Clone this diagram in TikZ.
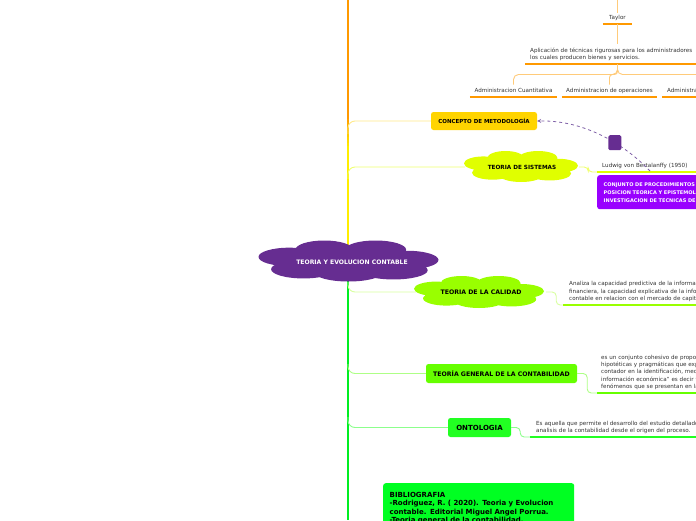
\documentclass[tikz,border=0pt]{standalone}
\usepackage{fontspec}
\setmainfont{DejaVu Sans}
\usetikzlibrary{arrows.meta}
\definecolor{cOrange}{HTML}{FF9900}
\definecolor{cOrangeLt}{HTML}{FFCB7A}
\definecolor{cYellow}{HTML}{FFEE00}
\definecolor{cGold}{HTML}{FFD400}
\definecolor{cGoldLt}{HTML}{FFEA8A}
\definecolor{cLime}{HTML}{E0FF00}
\definecolor{cLimeLt}{HTML}{F0FF70}
\definecolor{cPurple}{HTML}{662D91}
\definecolor{cViolet}{HTML}{9900FF}
\definecolor{cDash}{HTML}{8062A8}
\definecolor{cGreenA}{HTML}{99FF00}
\definecolor{cGreenALt}{HTML}{D8FFA0}
\definecolor{cGreenB}{HTML}{66FF00}
\definecolor{cGreenBLt}{HTML}{AEFF86}
\definecolor{cGreenC}{HTML}{22FF22}
\definecolor{cGreenCLt}{HTML}{8CFF8C}
\definecolor{cTrunk}{HTML}{00EE22}
\definecolor{cBib}{HTML}{00FF22}
\definecolor{cText}{HTML}{333333}
\tikzset{
  cloudpic/.pic={
    \fill[#1] (-0.66,-0.2) ellipse [x radius=.34, y radius=.45]
      (-0.27,-0.55) ellipse [x radius=.32, y radius=.45]
      (0.3,-0.55) ellipse [x radius=.34, y radius=.45]
      (0.65,-0.05) ellipse [x radius=.35, y radius=.45]
      (0.5,0.45) ellipse [x radius=.38, y radius=.45]
      (0.0,0.55) ellipse [x radius=.38, y radius=.45]
      (-0.5,0.4) ellipse [x radius=.36, y radius=.45]
      (0,0) ellipse [x radius=.8, y radius=.6];
  }
}
\begin{document}
\begin{tikzpicture}[x=1pt,y=-1pt,
  small/.style={font=\fontsize{5.6}{7.4}\selectfont, text=cText, inner sep=0pt},
  lbl/.style={font=\bfseries\fontsize{5.5}{6.5}\selectfont, text=black, inner sep=0pt},
  box/.style={rounded corners=2.5pt, inner sep=0pt},
  uline/.style={line width=2.4pt, #1},
  branch/.style={line width=0.9pt, rounded corners=7pt, #1},
  trunk/.style={line width=2.6pt, #1}]
\useasboundingbox[fill=white] (0,0) rectangle (696,520);

% trunk
\coordinate (t0) at (348,0);
\coordinate (t1) at (348,116);
\coordinate (t2) at (348,146);
\coordinate (t3) at (348,252);
\coordinate (t4) at (348,520);
\draw[trunk=cOrange] (t0) -- (t1);
\foreach \i in {0,...,9}{
  \pgfmathsetmacro{\pc}{100-\i*10}
  \draw[trunk=cOrange!\pc!cYellow] (348,116+\i*3) -- (348,119.4+\i*3);
}
\draw[trunk=cYellow] (t2) -- (t3);
\draw[trunk=cTrunk] (t3) -- (t4);

% ---------- top right (Taylor) ----------
\coordinate (topend) at (617.5,0);
\node[small, minimum width=29, minimum height=11, anchor=south] (taylor) at (617.5,24) {Taylor};
\draw[line width=0.9pt, cOrangeLt] (topend) -- (taylor.north);
\draw[uline=cOrange] (taylor.south west) -- (taylor.south east);
\node[small, anchor=south west, text width=200, align=left, inner xsep=5pt, inner ysep=3.5pt, font=\fontsize{5.6}{7}\selectfont] (aplic) at (525,64)
  {Aplicación de técnicas rigurosas para los administradores\\los cuales producen bienes y servicios.};
\draw[uline=cOrange] (aplic.south west) -- (aplic.south east);
\draw[line width=0.9pt, cOrangeLt] (taylor.south) -- (taylor.south |- aplic.north);
\coordinate (aplicb) at (aplic.south -| taylor.south);
\node[small, minimum width=87, minimum height=12, anchor=south] (admcuant) at (513.5,97) {Administracion Cuantitativa};
\node[small, minimum width=95, minimum height=12, anchor=south] (admop) at (609.5,97) {Administracion de operaciones};
\node[small, minimum width=95, minimum height=12, anchor=south west, text width=90, align=left, inner xsep=5pt] (admoth) at (662,97) {Administracion};
\foreach \n in {admcuant,admop,admoth}{\draw[uline=cOrange] (\n.south west) -- (\n.south east);}
\draw[line width=0.9pt, cOrangeLt, rounded corners=5pt] (aplicb) -- ++(0,10.5) -| (admcuant.north);
\draw[line width=0.9pt, cOrangeLt, rounded corners=3pt] (aplicb) -- ++(0,10.5) -| (admop.north);
\draw[line width=0.9pt, cOrangeLt, rounded corners=5pt] (aplicb) -- ++(0,10.5) -| ([xshift=40]admoth.north);

% ---------- Concepto de metodologia ----------
\node[lbl, box, fill=cGold, minimum width=106, minimum height=18] (concepto) at (484,121) {CONCEPTO DE METODOLOGÍA};
\coordinate (bc) at (348,134);
\draw[branch=cGoldLt] (bc) |- (concepto.west);

% ---------- Teoria de sistemas ----------
\pic[xscale=57, yscale=15.5] at (521,166.5) {cloudpic=cLime};
\node[lbl, font=\bfseries\fontsize{5.7}{6.5}\selectfont, minimum width=114, minimum height=31] (sistemas) at (522,167) {TEORIA DE SISTEMAS};
\coordinate (bs) at (348,179);
\draw[branch=cLimeLt] (bs) |- (sistemas.west);
\node[small, minimum height=11, anchor=south west, text width=100, align=left, inner xsep=5pt] (ludwig) at (597,172) {Ludwig von Bertalanffy (1950)};
\draw[uline=cLime] (ludwig.south west) -- (ludwig.south east);
\draw[line width=0.9pt, cLimeLt, rounded corners=4pt] (sistemas.east) -- ++(9,0) |- (ludwig.south west);
\node[box, fill=cViolet, anchor=north west, minimum width=140, minimum height=34, text width=130, align=left, inner xsep=6.5pt,
  font=\bfseries\fontsize{5}{8}\selectfont, text=white] (conjunto) at (597,175)
  {CONJUNTO DE PROCEDIMIENTOS\\POSICION TEORICA Y EPISTEMOL\\INVESTIGACION DE TECNICAS DE};

% dashed relation
\coordinate (ludlink) at (650,171);
\draw[cDash, dashed, line width=0.8pt, -{Stealth[length=4pt,width=4pt]}] (ludlink) .. controls (630,150) and (590,120) ..
  node[pos=0.42, fill=cPurple, rounded corners=1.5pt, minimum width=13, minimum height=15, inner sep=0pt, solid] (rel) {}
  (concepto.east);

% ---------- central ----------
\pic[xscale=90, yscale=20.5] at (348.5,261) {cloudpic=cPurple};
\node[font=\bfseries\fontsize{6.1}{7}\selectfont, text=white, inner sep=0pt, minimum width=181, minimum height=41] (central) at (352,262) {TEORIA Y EVOLUCION CONTABLE};

% ---------- Teoria de la calidad ----------
\pic[xscale=65, yscale=16] at (479,292) {cloudpic=cGreenA};
\node[font=\bfseries\fontsize{6.2}{7}\selectfont, inner sep=0pt, minimum width=130, minimum height=32] (calidad) at (481,292) {\raisebox{-1.5pt}{TEORIA DE LA CALIDAD}};
\coordinate (bq) at (348,282);
\draw[branch=cGreenALt] (bq) |- (calidad.west);
\node[small, anchor=south west, text width=230, align=left, inner xsep=6pt, inner ysep=3pt, font=\fontsize{5.6}{7.5}\selectfont] (calidadtxt) at (563,305)
  {Analiza la capacidad predictiva de la información\\financiera, la capacidad explicativa de la información\\contable en relacion con el mercado de capitales};
\draw[uline=cGreenA] (calidadtxt.south west) -- (calidadtxt.south east);
\draw[line width=0.9pt, cGreenALt, rounded corners=4pt] (calidad.east) -- ++(10,0) |- (calidadtxt.south west);

% ---------- Teoria general de la contabilidad ----------
\node[box, fill=cGreenB, minimum width=151, minimum height=19, font=\bfseries\fontsize{6.2}{7}\selectfont] (tgc) at (501.5,373.5) {TEORÍA GENERAL DE LA CONTABILIDAD};
\coordinate (bg) at (348,364);
\draw[branch=cGreenBLt] (bg) |- (tgc.west);
\node[small, anchor=south west, text width=200, align=left, inner xsep=4pt, inner ysep=3pt] (tgctxt) at (597,393)
  {es un conjunto cohesivo de proposiciones\\hipotéticas y pragmáticas que explican\\contador en la identificación, medición\\información económica” es decir trata\\fenómenos que se presentan en la};
\draw[uline=cGreenB] (tgctxt.south west) -- (tgctxt.south east);
\draw[line width=0.9pt, cGreenBLt, rounded corners=4pt] (tgc.east) -- ++(10,0) |- (tgctxt.south west);

% ---------- Ontologia ----------
\node[box, fill=cGreenC, minimum width=63, minimum height=19, font=\bfseries\fontsize{7}{8}\selectfont] (onto) at (479.5,427.5) {ONTOLOGIA};
\coordinate (bo) at (348,417);
\draw[branch=cGreenCLt] (bo) |- (onto.west);
\node[small, anchor=south west, text width=200, align=left, inner xsep=6pt, inner ysep=3pt] (ontotxt) at (530,437)
  {Es aquella que permite el desarrollo del estudio detallado\\analisis de la contabilidad desde el origen del proceso.};
\draw[uline=cGreenC] (ontotxt.south west) -- (ontotxt.south east);
\draw[line width=0.9pt, cGreenCLt, rounded corners=4pt] (onto.east) -- ++(9,0) |- (ontotxt.south west);

% ---------- Bibliografia ----------
\node[box, fill=cBib, anchor=north west, minimum width=189, minimum height=50, text width=178, align=left,
  inner xsep=6.5pt, inner ysep=5pt, font=\bfseries\fontsize{7}{8.3}\selectfont] (biblio) at (383,483)
  {BIBLIOGRAFIA\\-Rodriguez, R. ( 2020). Teoria y Evolucion\\contable. Editorial Miguel Angel Porrua.\\-Teoria general de la contabilidad.};
\end{tikzpicture}
\end{document}
